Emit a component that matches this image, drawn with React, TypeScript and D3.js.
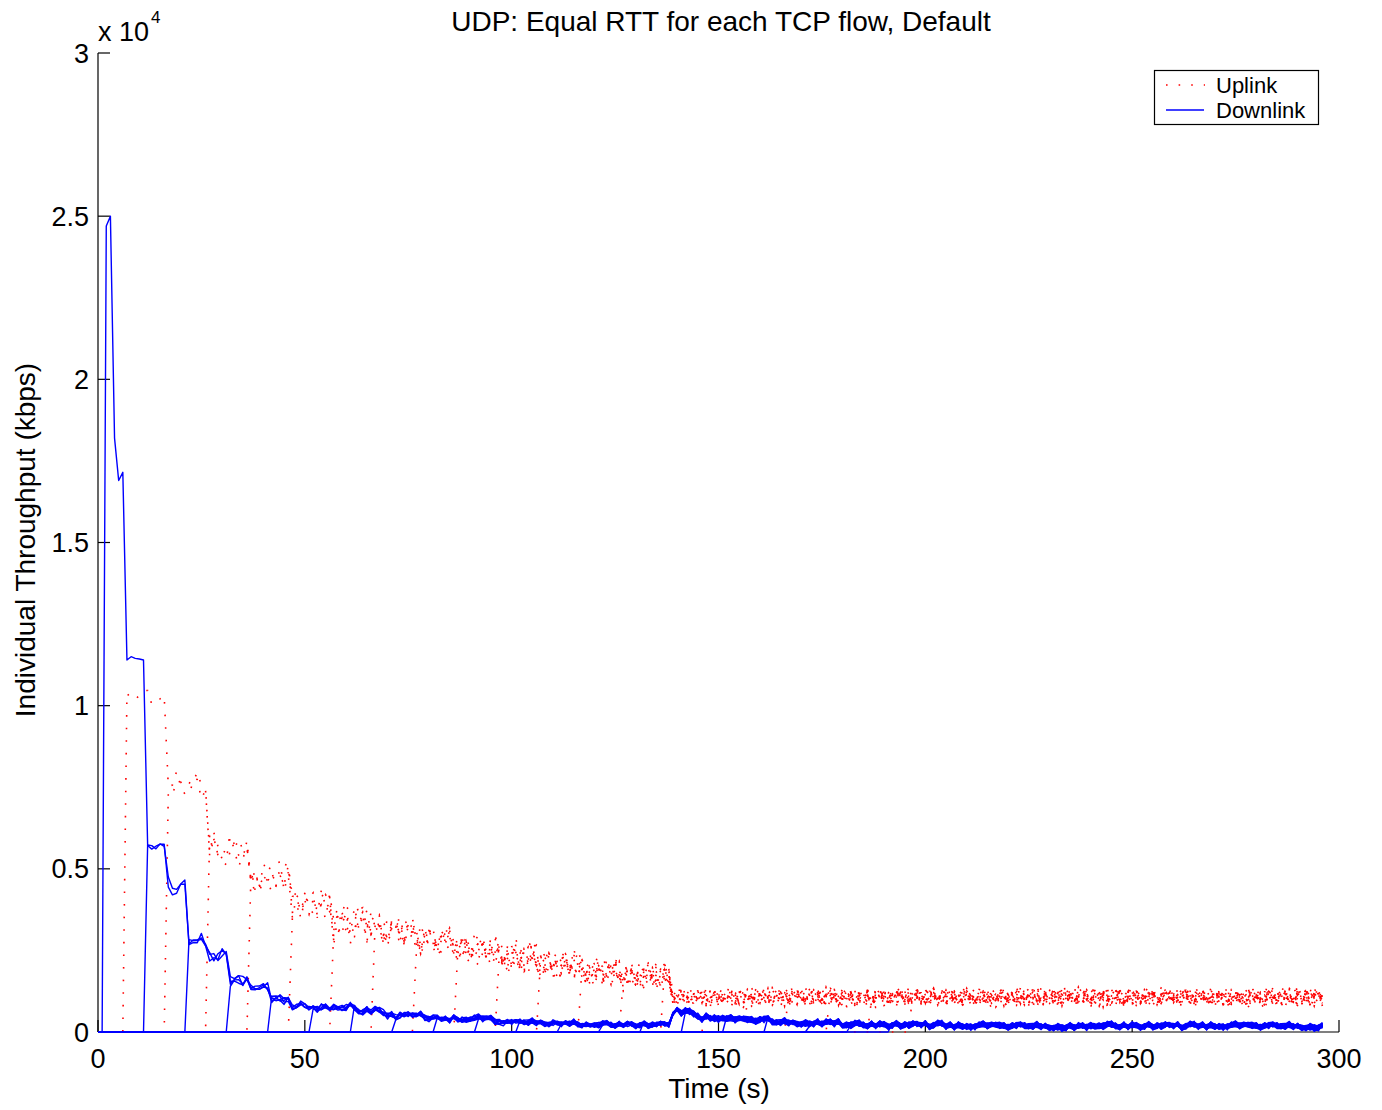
import React from 'react';
import * as d3 from 'd3';

const W = 1382;
const H = 1110;
const PLOT = { left: 98, right: 1339, top: 53, bottom: 1032 };

const TITLE = 'UDP: Equal RTT for each TCP flow, Default';
const X_LABEL = 'Time (s)';
const Y_LABEL = 'Individual Throughput (kbps)';
const xTicks = [0, 50, 100, 150, 200, 250, 300];
const yTicks = [0, 5000, 10000, 15000, 20000, 25000, 30000];
const yTickLabels = ['0', '0.5', '1', '1.5', '2', '2.5', '3'];
const legendLabels = ['Uplink', 'Downlink'];

const T_END = 296;
// flow start times (value 0 up to and including start)
const downStarts = [1, 11, 21, 31, 41, 51, 61, 71, 81, 91, 101, 111, 121, 131, 141, 151, 161, 171, 181, 191];
const upStarts = [6, 16, 26, 36, 46, 56, 66, 76, 86, 96, 106, 116, 126, 136, 146, 156, 166, 176, 186, 196];

// first downlink flow, seconds 0..11 (alone on the link)
const firstDownEarly = [0, 0, 24700, 25000, 18200, 16900, 17150, 11400, 11500, 11450, 11430, 11400];

// downlink per-flow level (kbps) from each break time on
const downBreaks = [12, 17, 22, 27, 32, 37, 42, 47, 52, 62, 70, 80, 96, 116, 139, 140, 141, 145, 152, 163, 180, 205];
const downMeans = [5650, 4450, 2800, 2300, 1550, 1350, 1000, 850, 750, 650, 500, 400, 300, 220, 520, 740, 580, 440, 370, 300, 215, 185];
const downSpread = [260, 420, 320, 380, 300, 280, 250, 220, 200, 200, 190, 180, 170, 160, 120, 120, 200, 200, 190, 180, 180, 180];

// uplink per-flow level (kbps) from each break time on
const upBreaks = [7, 17, 27, 37, 47, 57, 67, 77, 87, 97, 107, 117, 127, 139];
const upMeans = [10250, 7600, 5700, 4750, 3850, 3300, 3050, 2800, 2550, 2300, 2050, 1850, 1700, 1060];
const upSpread = [350, 600, 680, 650, 520, 680, 620, 640, 580, 600, 520, 500, 470, 320];

// hand-written jitter table (per-sample fluctuation, -1..1)
const JITTER = [0.32, -0.71, 0.15, 0.88, -0.24, -0.53, 0.61, -0.09, 0.97, -0.86, 0.27, -0.38, 0.74, 0.05, -0.92, 0.43,
  -0.17, 0.56, -0.65, 0.12, 0.81, -0.47, -0.02, 0.69, -0.79, 0.36, -0.28, 0.93, -0.58, 0.19, -0.11, 0.51, -0.96, 0.64,
  0.08, -0.42, 0.77, -0.33, 0.23, -0.69, 0.45, -0.05, 0.89, -0.81, 0.14, -0.55, 0.38, 0.71, -0.26, -0.63, 0.02, 0.58,
  -0.37, 0.84, -0.15, -0.74, 0.29, 0.66, -0.49, 0.11, -0.88];

function seg(breaks: number[], t: number) {
  let idx = -1;
  for (let i = 0; i < breaks.length; i++) if (breaks[i] <= t) idx = i;
  return idx;
}
function jit(a: number) {
  const n = JITTER.length;
  return JITTER[((a % n) + n) % n];
}

const times = d3.range(0, T_END + 1);

function downSeries(f: number) {
  const start = downStarts[f];
  return times.map((t) => {
    if (t <= start) return 0;
    if (f === 0 && t < firstDownEarly.length) return firstDownEarly[t];
    const i = seg(downBreaks, t);
    const common = jit(t * 5 + 3);
    const own = jit(t * 7 + f * 23);
    const own2 = jit(t * 13 + f * 31 + 11);
    return Math.max(0, downMeans[i] + downSpread[i] * (0.35 * common + 0.45 * own + 0.2 * own2));
  });
}
function upSeries(f: number) {
  const start = upStarts[f];
  return times.map((t) => {
    if (t <= start) return 0;
    const i = seg(upBreaks, t);
    const own = jit(t * 11 + f * 17 + 7);
    const own2 = jit(t * 3 + f * 29);
    return Math.max(0, upMeans[i] + upSpread[i] * (0.75 * own + 0.25 * own2));
  });
}

const FONT = 'Liberation Sans, Arial, Helvetica, sans-serif';

export default function App() {
  const x = d3.scaleLinear().domain([0, 300]).range([PLOT.left, PLOT.right]);
  const y = d3.scaleLinear().domain([0, 30000]).range([PLOT.bottom, PLOT.top]);
  const line = d3.line<number>().x((_, i) => x(times[i])).y((v) => y(v));

  const ups = upStarts.map((_, f) => upSeries(f));
  const downs = downStarts.map((_, f) => downSeries(f));

  return (
    <svg width={W} height={H} style={{ position: 'absolute', left: 0, top: 0, background: '#fff' }} fontFamily={FONT}>
      <rect width={W} height={H} fill="#fff" />
      {/* axes */}
      <line x1={PLOT.left} x2={PLOT.right} y1={PLOT.bottom} y2={PLOT.bottom} stroke="#000" strokeWidth={1.2} />
      <line x1={PLOT.left} x2={PLOT.left} y1={PLOT.top} y2={PLOT.bottom} stroke="#000" strokeWidth={1.2} />
      {xTicks.map((v) => (
        <g key={'xt' + v}>
          <line x1={x(v)} x2={x(v)} y1={PLOT.bottom} y2={PLOT.bottom - 12} stroke="#000" strokeWidth={1.2} />
          <text x={x(v)} y={1068} fontSize={27} textAnchor="middle">{v}</text>
        </g>
      ))}
      {yTicks.map((v, i) => (
        <g key={'yt' + v}>
          <line x1={PLOT.left} x2={PLOT.left + 12} y1={y(v)} y2={y(v)} stroke="#000" strokeWidth={1.2} />
          <text x={89} y={y(v) + 9.5} fontSize={27} textAnchor="end">{yTickLabels[i]}</text>
        </g>
      ))}
      {/* data */}
      <g fill="none">
        {ups.map((s, f) => (
          <path key={'u' + f} d={line(s) || ''} stroke="#ff0000" strokeWidth={1.6} strokeDasharray="1.6 11" />
        ))}
        {downs.map((s, f) => (
          <path key={'d' + f} d={line(s) || ''} stroke="#0000ff" strokeWidth={1.4} strokeLinejoin="round" />
        ))}
      </g>
      {/* texts */}
      <text x={98} y={41} fontSize={27}>x 10</text>
      <text x={151} y={23} fontSize={17}>4</text>
      <text x={721} y={31} fontSize={28} textAnchor="middle">{TITLE}</text>
      <text x={719} y={1098} fontSize={28} textAnchor="middle">{X_LABEL}</text>
      <text transform={`translate(35, 540) rotate(-90)`} fontSize={28} textAnchor="middle">{Y_LABEL}</text>
      {/* legend */}
      <rect x={1154.5} y={70.5} width={164} height={54} fill="#fff" stroke="#000" strokeWidth={1.2} />
      <line x1={1166} x2={1205} y1={85} y2={85} stroke="#ff0000" strokeWidth={1.6} strokeDasharray="1.6 11" />
      <line x1={1166} x2={1204} y1={110} y2={110} stroke="#0000ff" strokeWidth={1.4} />
      <text x={1216} y={93} fontSize={22}>{legendLabels[0]}</text>
      <text x={1216} y={118} fontSize={22}>{legendLabels[1]}</text>
    </svg>
  );
}
